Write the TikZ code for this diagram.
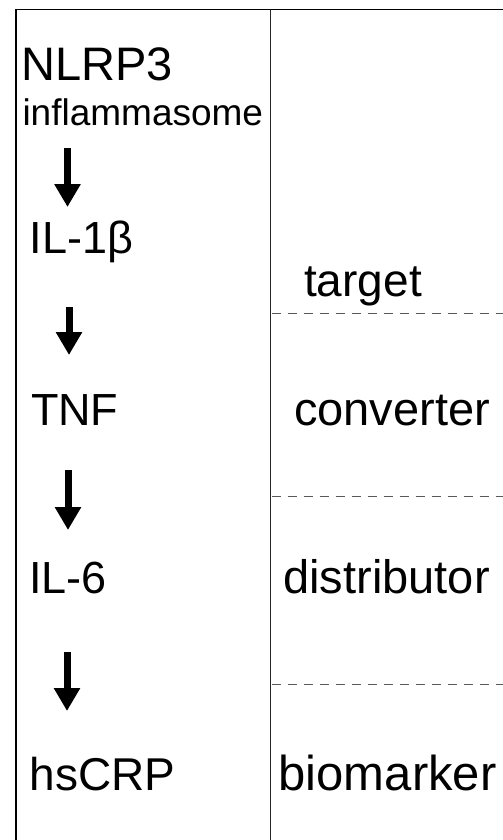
\documentclass[tikz,border=0pt]{standalone}
\usepackage{fontspec}
\setmainfont{Liberation Sans}
\usetikzlibrary{arrows.meta}
\begin{document}
\begin{tikzpicture}[x=1bp,y=-1bp,
  lbl/.style={inner sep=0pt,outer sep=0pt,anchor=base west,font=\fontsize{46bp}{50bp}\selectfont},
  rlbl/.style={inner sep=0pt,outer sep=0pt,anchor=base,font=\fontsize{47bp}{50bp}\selectfont},
  frame/.style={line width=1.8bp,black},
  divider/.style={line width=1.3bp,black!85},
  sep/.style={line width=1bp,black!65,dash pattern=on 9bp off 7bp},
  flow/.style={line width=7bp,-{Triangle[width=25bp,length=23bp]}}]
\useasboundingbox (0,0) rectangle (503,840);
\fill[white] (0,0) rectangle (503,840);
% frame
\draw[frame] (16,840) -- (16,9.5) -- (503,9.5);
\draw[divider] (270.5,10) -- (270.5,840);
% dashed separators
\draw[sep] (272,313) -- (503,313);
\draw[sep] (272,496) -- (503,496);
\draw[sep] (272,684) -- (503,684);
% left column labels
\node[lbl,font=\fontsize{47bp}{50bp}\selectfont] (nlrp) at (21.5,80) {NLRP3};
\node[lbl,font=\fontsize{37bp}{40bp}\selectfont] (infl) at (22.5,125) {inflammasome};
\node[lbl,font=\fontsize{45bp}{48bp}\selectfont] (il1) at (29.5,253) {IL-1β};
\node[lbl,font=\fontsize{45bp}{48bp}\selectfont] (tnf) at (31,425) {TNF};
\node[lbl,font=\fontsize{45bp}{48bp}\selectfont] (il6) at (29,593) {IL-6};
\node[lbl] (crp) at (29.5,790) {hsCRP};
% right column labels
\node[rlbl,font=\fontsize{46bp}{50bp}\selectfont] (target) at (363,296) {target};
\node[rlbl] (conv) at (392,425) {converter};
\node[rlbl] (dist) at (386.5,593) {distributor};
\node[rlbl,font=\fontsize{49bp}{52bp}\selectfont] (bio) at (387.5,790) {biomarker};
% arrows
\coordinate (a1s) at (67.5,148); \coordinate (a1e) at (67.5,207);
\coordinate (a2s) at (69,307);   \coordinate (a2e) at (69,355);
\coordinate (a3s) at (68,470);   \coordinate (a3e) at (68,530);
\coordinate (a4s) at (67,652);   \coordinate (a4e) at (67,711);
\draw[flow] (a1s) -- (a1e);
\draw[flow] (a2s) -- (a2e);
\draw[flow] (a3s) -- (a3e);
\draw[flow] (a4s) -- (a4e);
\end{tikzpicture}
\end{document}
